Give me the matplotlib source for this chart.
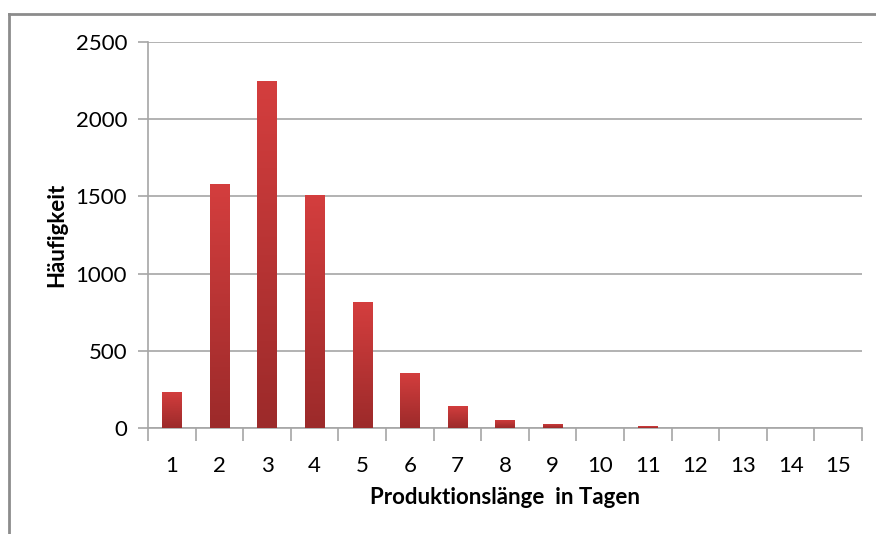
import numpy as np
import matplotlib.pyplot as plt
from matplotlib.lines import Line2D
from matplotlib.colors import LinearSegmentedColormap

# Produktionslänge (Tage) und Häufigkeit
tage = np.arange(1, 16)
haeufigkeit = [235, 1580, 2245, 1510, 815, 358, 145, 55, 28, 0, 12, 0, 0, 0, 0]
tick_labels = [str(t) for t in tage]

plt.rcParams['font.family'] = ['Lato', 'DejaVu Sans']

fig = plt.figure(figsize=(8.76, 5.34), dpi=100)
ax = fig.add_axes([148 / 876, 1 - 428 / 534, (862 - 148) / 876, (428 - 42) / 534])

bars = ax.bar(tage, haeufigkeit, width=0.4, color='none', edgecolor='none', zorder=3)

# Farbverlauf in den Balken (oben heller, unten dunkler)
grad = np.linspace(0, 1, 256).reshape(-1, 1)
cmap = LinearSegmentedColormap.from_list('rot', ['#9c2a2a', '#d43e3e'])
for b in bars:
    h = b.get_height()
    if h <= 0:
        continue
    x0 = b.get_x()
    w = b.get_width()
    im = ax.imshow(grad, extent=[x0, x0 + w, 0, h], origin='lower', cmap=cmap,
                   aspect='auto', zorder=3)
    im.set_clip_path(b)

ax.set_xlim(0.5, 15.5)
ax.set_ylim(0, 2500)
ax.set_yticks([0, 500, 1000, 1500, 2000, 2500])
ax.set_xticks(tage)
ax.set_xticklabels(tick_labels)
ax.set_xticks(np.arange(0.5, 16, 1), minor=True)

ax.grid(axis='y', color='#a6a6a6', linewidth=1.2, zorder=0)
ax.set_axisbelow(True)

for s in ['top', 'right']:
    ax.spines[s].set_visible(False)
for s in ['left', 'bottom']:
    ax.spines[s].set_color('#a6a6a6')
    ax.spines[s].set_linewidth(1.2)

ax.tick_params(axis='y', length=7, color='#a6a6a6', width=1.2, pad=8, labelsize=16)
ax.tick_params(axis='x', which='major', length=0, pad=20, labelsize=16)
ax.tick_params(axis='x', which='minor', length=9, color='#a6a6a6', width=1.2)

ax.set_xlabel('Produktionslänge  in Tagen', fontsize=16, fontweight='bold', labelpad=8)
ax.set_ylabel('Häufigkeit', fontsize=16, fontweight='bold', labelpad=6)

# Rahmen des Diagrammbereichs
fig.add_artist(Line2D([9 / 876, 1], [1 - 14 / 534, 1 - 14 / 534], transform=fig.transFigure,
                      color='#8c8c8c', linewidth=2))
fig.add_artist(Line2D([9 / 876, 9 / 876], [0, 1 - 14 / 534], transform=fig.transFigure,
                      color='#8c8c8c', linewidth=2))

fig.savefig('out.png', dpi=100)
